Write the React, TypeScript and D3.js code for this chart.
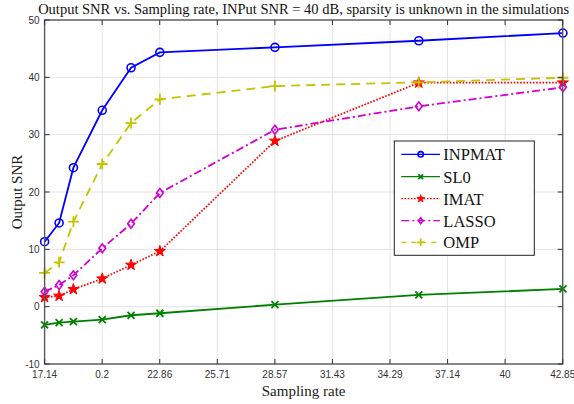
import React from "react";
import * as d3 from "d3";

const samplingRates = [17.14, 17.86, 18.57, 20, 21.43, 22.86, 28.57, 35.71, 42.86];
const inpmat = [11.33, 14.6, 24.24, 34.25, 41.67, 44.36, 45.23, 46.38, 47.72];
const sl0 = [-3.19, -2.79, -2.62, -2.27, -1.5, -1.15, 0.35, 2.04, 3.09];
const imat = [1.64, 1.87, 3.03, 4.88, 7.27, 9.66, 28.9, 39.06, 39.06];
const lasso = [2.62, 3.78, 5.47, 10.18, 14.47, 19.83, 30.86, 34.94, 38.26];
const omp = [5.88, 7.74, 14.82, 24.88, 32.03, 36.16, 38.48, 39.13, 39.93];

const xTickLabels = ["17.14", "0.2", "22.86", "25.71", "28.57", "31.43", "34.29", "37.14", "40", "42.85"];
const yTicks = [-10, 0, 10, 20, 30, 40, 50];

type Marker = "circle" | "x" | "star" | "diamond" | "plus";
const seriesDefs = [
  { name: "INPMAT", values: inpmat, color: "#0000ff", dash: "none", marker: "circle" as Marker },
  { name: "SL0", values: sl0, color: "#008000", dash: "none", marker: "x" as Marker },
  { name: "IMAT", values: imat, color: "#ff0000", dash: "1.6,1.6", marker: "star" as Marker },
  { name: "LASSO", values: lasso, color: "#d000d0", dash: "8,3,2,3", marker: "diamond" as Marker },
  { name: "OMP", values: omp, color: "#c4c400", dash: "9,6", marker: "plus" as Marker },
];

const W = 574, H = 404;
const L = 44.6, R = 562.7, T = 20, B = 364;

function MarkerShape({ type, x, y, color, k = 1 }: { type: Marker; x: number; y: number; color: string; k?: number }) {
  if (type === "circle") return <circle cx={x} cy={y} r={4 * k} fill="none" stroke={color} strokeWidth={1.6} />;
  if (type === "x") {
    const s = 3.5 * k;
    return <path d={`M${x - s},${y - s}L${x + s},${y + s}M${x - s},${y + s}L${x + s},${y - s}`} stroke={color} strokeWidth={1.8} fill="none" />;
  }
  if (type === "plus") {
    const s = 5.5 * k;
    return <path d={`M${x - s},${y}L${x + s},${y}M${x},${y - s}L${x},${y + s}`} stroke={color} strokeWidth={1.8} fill="none" />;
  }
  if (type === "diamond") {
    const w = 3.4 * k, h = 4.4 * k;
    return <path d={`M${x},${y - h}L${x + w},${y}L${x},${y + h}L${x - w},${y}Z`} stroke={color} strokeWidth={1.6} fill="none" />;
  }
  const star = d3.symbol().type(d3.symbolStar).size(38 * k * k)();
  return <path d={star || ""} transform={`translate(${x},${y})`} fill={color} stroke={color} strokeWidth={1} strokeLinejoin="round" />;
}

export default function App() {
  const x = d3.scaleLinear().domain([17.14, 42.85]).range([L, R]);
  const y = d3.scaleLinear().domain([-10, 50]).range([B, T]);
  const xTickVals = xTickLabels.map((_, i) => 17.14 + (i * (42.85 - 17.14)) / 9);
  const line = d3.line<number>().x((_, i) => x(samplingRates[i])).y((d) => y(d));

  const legX = 394.3, legY = 141, legW = 140, legH = 114.3;
  const rowY = [154.3, 176.7, 198.7, 220.7, 242.3];

  return (
    <svg width={W} height={H} style={{ position: "absolute", left: 0, top: 0, background: "#fff" }}>
      <rect x={0} y={0} width={W} height={H} fill="#fff" />
      {/* grid */}
      {xTickVals.map((v, i) => (
        <line key={"gx" + i} x1={x(v)} x2={x(v)} y1={T} y2={B} stroke="#e3e3e3" strokeWidth={1} />
      ))}
      {yTicks.map((v) => (
        <line key={"gy" + v} x1={L} x2={R} y1={y(v)} y2={y(v)} stroke="#e3e3e3" strokeWidth={1} />
      ))}
      {/* series */}
      {seriesDefs.map((s) => (
        <g key={s.name}>
          <path d={line(s.values) || ""} fill="none" stroke={s.color} strokeWidth={1.8} strokeDasharray={s.dash} />
          {s.values.map((v, i) => (
            <MarkerShape key={i} type={s.marker} x={x(samplingRates[i])} y={y(v)} color={s.color} />
          ))}
        </g>
      ))}
      {/* axes box */}
      <rect x={L} y={T} width={R - L} height={B - T} fill="none" stroke="#5a5a5a" strokeWidth={1.4} />
      {xTickVals.map((v, i) => (
        <g key={"tx" + i}>
          <line x1={x(v)} x2={x(v)} y1={B} y2={B - 5} stroke="#333" strokeWidth={1} />
          <line x1={x(v)} x2={x(v)} y1={T} y2={T + 5} stroke="#333" strokeWidth={1} />
          <text x={x(v)} y={B + 14} textAnchor="middle" fontFamily="Liberation Sans, Arial, sans-serif" fontSize={10} fill="#333">
            {xTickLabels[i]}
          </text>
        </g>
      ))}
      {yTicks.map((v) => (
        <g key={"ty" + v}>
          <line x1={L} x2={L + 5} y1={y(v)} y2={y(v)} stroke="#333" strokeWidth={1} />
          <line x1={R} x2={R - 5} y1={y(v)} y2={y(v)} stroke="#333" strokeWidth={1} />
          <text x={L - 5} y={y(v) + 3.5} textAnchor="end" fontFamily="Liberation Sans, Arial, sans-serif" fontSize={10} fill="#333">
            {v}
          </text>
        </g>
      ))}
      {/* title and labels */}
      <text x={(L + R) / 2} y={14} textAnchor="middle" fontFamily="Liberation Serif, Times New Roman, serif" fontSize={14.5} fill="#111">
        Output SNR vs. Sampling rate, INPut SNR = 40 dB, sparsity is unknown in the simulations
      </text>
      <text x={(L + R) / 2} y={396} textAnchor="middle" fontFamily="Liberation Serif, Times New Roman, serif" fontSize={15} fill="#222">
        Sampling rate
      </text>
      <text transform={`translate(22,${(T + B) / 2}) rotate(-90)`} textAnchor="middle" fontFamily="Liberation Serif, Times New Roman, serif" fontSize={15} fill="#222">
        Output SNR
      </text>
      {/* legend */}
      <rect x={legX} y={legY} width={legW} height={legH} fill="#fff" stroke="#222" strokeWidth={1} />
      {seriesDefs.map((s, i) => (
        <g key={"leg" + s.name}>
          <line x1={401.3} x2={440} y1={rowY[i]} y2={rowY[i]} stroke={s.color} strokeWidth={1.3} strokeDasharray={s.marker === "plus" ? "5,5" : s.dash} />
          <MarkerShape type={s.marker} x={420.7} y={rowY[i]} color={s.color} k={0.68} />
          <text x={443.3} y={rowY[i] + 5.8} fontFamily="Liberation Serif, Times New Roman, serif" fontSize={16.5} fill="#111">
            {s.name}
          </text>
        </g>
      ))}
    </svg>
  );
}
